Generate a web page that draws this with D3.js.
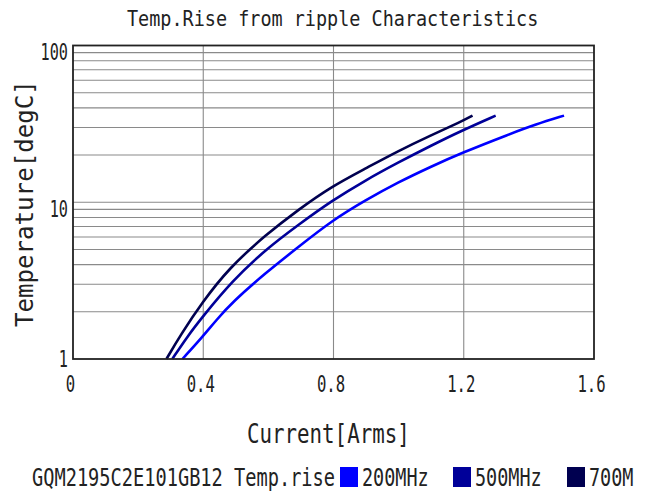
<!DOCTYPE html>
<html>
<head>
<meta charset="utf-8">
<script src="https://cdn.jsdelivr.net/npm/d3@7"></script>
<style>
  html, body { margin: 0; padding: 0; background: #fff; }
  svg text { font-family: "DejaVu Sans Mono", "Liberation Mono", monospace; fill: #222; }
</style>
</head>
<body>
<svg id="chart" width="645" height="496"></svg>
<script>
// ---- data ----
const seriesNames = ["200MHz", "500MHz", "700M"];
const seriesColors = ["#0000ff", "#000099", "#000050"];

const current200 = [0.336, 0.397, 0.441, 0.489, 0.592, 0.693, 0.794, 0.898, 0.998, 1.10, 1.19, 1.344, 1.42, 1.508];
const temp200    = [1.0, 1.38, 1.78, 2.3, 3.55, 5.2, 7.6, 10.3, 13.4, 16.9, 20.5, 27.4, 31.3, 35.7];

const current500 = [0.305, 0.35, 0.397, 0.489, 0.592, 0.693, 0.794, 0.898, 0.998, 1.10, 1.19, 1.298];
const temp500    = [1.0, 1.38, 1.85, 3.15, 5.0, 7.2, 10.2, 13.8, 17.9, 23.0, 28.4, 35.7];

const current700 = [0.287, 0.33, 0.397, 0.479, 0.592, 0.693, 0.794, 0.898, 0.998, 1.10, 1.19, 1.227];
const temp700    = [1.0, 1.42, 2.3, 3.8, 6.2, 9.0, 12.6, 16.4, 21.2, 26.8, 32.5, 35.7];

const xTicks = [0, 0.4, 0.8, 1.2, 1.6];
const xTickLabels = ["0", "0.4", "0.8", "1.2", "1.6"];
const yTicks = [1, 10, 100];
const yTickLabels = ["1", "10", "100"];
const yMinor = [2,3,4,5,6,7,8,9,20,30,40,50,60,70,80,90];

const titleText = "Temp.Rise from ripple Characteristics";
const xLabel = "Current[Arms]";
const yLabel = "Temperature[degC]";
const legendTitle = "GQM2195C2E101GB12 Temp.rise";

// ---- layout ----
const svg = d3.select("#chart");
const L = 73, R = 594, T = 45.5, B = 359;
const x = d3.scaleLinear().domain([0, 1.6]).range([L, R]);
const y = d3.scaleLog().domain([1, 100]).range([B, T]);

// grid
const g = svg.append("g");
g.selectAll("line.hminor").data(yMinor.concat([10])).join("line")
  .attr("x1", L).attr("x2", R)
  .attr("y1", d => y(d)).attr("y2", d => y(d))
  .attr("stroke", "#8a8a8a").attr("stroke-width", 1.1);
g.selectAll("line.vgrid").data(xTicks.slice(1, -1)).join("line")
  .attr("x1", d => x(d)).attr("x2", d => x(d))
  .attr("y1", T).attr("y2", B)
  .attr("stroke", "#8a8a8a").attr("stroke-width", 1.1);

// series
const seriesData = [
  current200.map((c, i) => [c, temp200[i]]),
  current500.map((c, i) => [c, temp500[i]]),
  current700.map((c, i) => [c, temp700[i]])
];
const line = d3.line().x(d => x(d[0])).y(d => y(d[1])).curve(d3.curveBasis);
svg.append("g").selectAll("path").data(seriesData).join("path")
  .attr("d", line)
  .attr("fill", "none")
  .attr("stroke", (d, i) => seriesColors[i])
  .attr("stroke-width", 2.6)
  .attr("stroke-linejoin", "round");

// frame
svg.append("rect").attr("x", L).attr("y", T).attr("width", R - L).attr("height", B - T)
  .attr("fill", "none").attr("stroke", "#222").attr("stroke-width", 1.8);

// axes tick labels (via d3 axes, domain/ticks hidden)
const xAxis = d3.axisBottom(x).tickValues(xTicks).tickFormat((d, i) => xTickLabels[i]).tickSize(0).tickPadding(0);
const xa = svg.append("g").attr("transform", `translate(0,${B})`).call(xAxis);
xa.select(".domain").remove();
xa.selectAll("text")
  .attr("x", 0).attr("y", 0).attr("dy", 0).attr("text-anchor", "middle")
  .attr("transform", "translate(-3,33) scale(0.68,1)")
  .style("font-size", "23px").attr("fill", "#222");

const yAxis = d3.axisLeft(y).tickValues(yTicks).tickFormat((d, i) => yTickLabels[i]).tickSize(0).tickPadding(0);
const ya = svg.append("g").attr("transform", `translate(${L - 5},0)`).call(yAxis);
ya.select(".domain").remove();
ya.selectAll("text")
  .attr("x", 0).attr("dy", 0).attr("text-anchor", "end")
  .attr("transform", d => `translate(0,${d === 1 ? 7 : 14}) scale(0.66,1)`)
  .style("font-size", "23px").attr("fill", "#222");

// title & labels
svg.append("text").attr("transform", "translate(127,26) scale(0.84,1)")
  .style("font-size", "22px").text(titleText);

svg.append("text").attr("transform", "translate(247,443) scale(0.8,1)")
  .style("font-size", "26px").text(xLabel);

svg.append("text").attr("transform", "translate(33,327) rotate(-90) scale(0.965,1)")
  .style("font-size", "25px").text(yLabel);

// legend
svg.append("text").attr("transform", "translate(32,486) scale(0.777,1)")
  .style("font-size", "24px").text(legendTitle);

const legendX = [340, 453, 567];
const lg = svg.append("g").selectAll("g").data(seriesNames).join("g");
lg.append("rect")
  .attr("x", (d, i) => legendX[i]).attr("y", 467)
  .attr("width", 18).attr("height", 20)
  .attr("fill", (d, i) => seriesColors[i]);
lg.append("text")
  .attr("transform", (d, i) => `translate(${legendX[i] + 22},486) scale(0.77,1)`)
  .style("font-size", "24px").text(d => d);
</script>
</body>
</html>
